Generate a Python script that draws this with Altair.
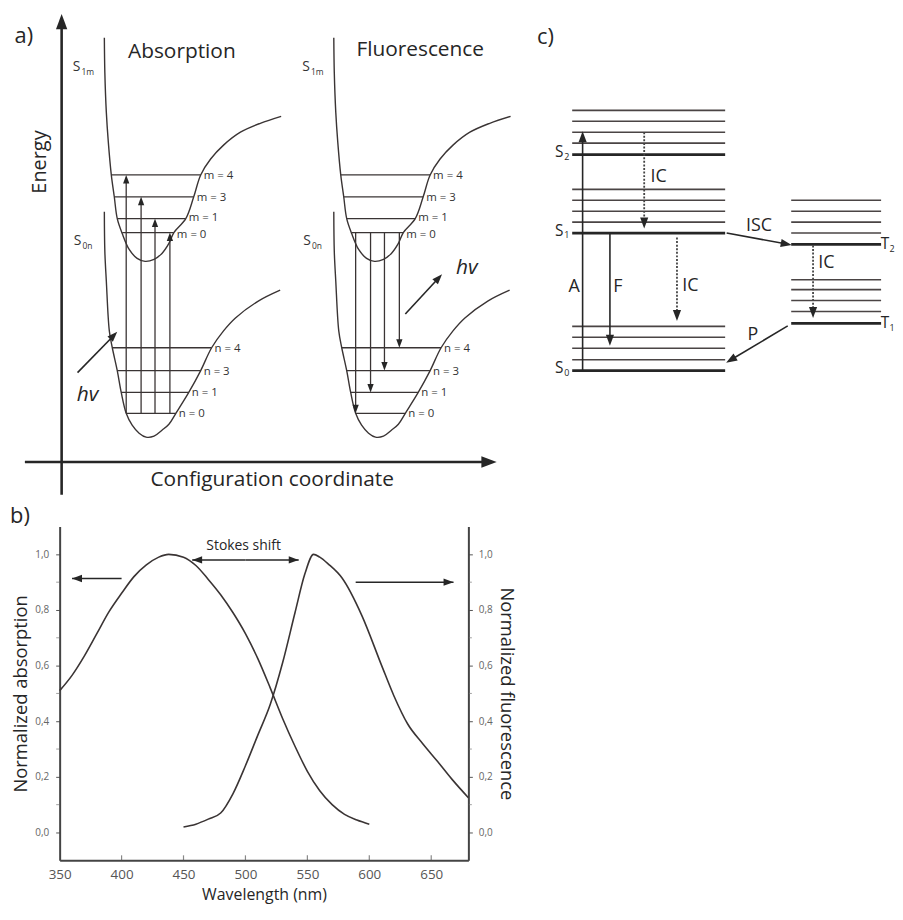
import math
import altair as alt
import pandas as pd

FONT = "Open Sans"
INK = "#262626"
LINE = "#3a3434"
W, H = 893, 904          # drawing area (page minus the 8px margin)

# ------------------------------------------------------------------
# Panel a : configuration-coordinate diagram (diagram units)
# ------------------------------------------------------------------
S1_X = [105, 105.5, 107, 109, 112, 115, 118, 123, 130, 138, 146, 155, 163, 170, 175, 187, 195, 202, 212, 225, 242, 262, 283]
S1_Y = [35, 70, 110, 140, 173, 195, 217, 232, 248, 257, 260, 258, 252, 242, 231, 217, 195, 173, 157, 143, 130, 121, 114]
S0_X = [105, 105.5, 107, 110, 113, 118, 122, 127, 133, 140, 147, 155, 163, 170, 177, 190, 202, 213, 225, 237, 260, 282]
S0_Y = [210, 250, 280, 330, 347, 370, 392, 413, 425, 433, 437, 436, 430, 424, 413, 392, 370, 347, 330, 317, 300, 289]
FL_SHIFT = 231            # fluorescence diagram drawn to the right

M_Y = [173, 195, 217, 231]
M_X0 = [112, 115, 118, 123]
M_X1 = [202, 195, 187, 175]
M_TXT = ["m = 4", "m = 3", "m = 1", "m = 0"]
M_TXT_Y = [174, 196, 216, 233]
N_Y = [347, 370, 392, 413]
N_X0 = [113, 118, 122, 127]
N_X1 = [213, 202, 190, 177]
N_TXT = ["n = 4", "n = 3", "n = 1", "n = 0"]
ABS_X = [127, 142, 156, 171]      # n=0 -> m=4,3,1,0
EM_X = [358, 373, 387, 402]       # m=0 -> n=0,1,3,4
EM_TO = [413, 392, 370, 347]

# ------------------------------------------------------------------
# Panel c : Jablonski diagram (diagram units)
# ------------------------------------------------------------------
C_SX = (576, 730)
C_TX = (796.5, 887)
C_S_THIN = [108, 119, 130, 141, 187.5, 198.5, 209.5, 220.5, 325.5, 336.5, 347.5, 359]
C_S_THICK = [152.5, 231.5, 370]
C_T_THIN = [198.5, 209.5, 220.5, 231.5, 278.5, 288.5, 299.5, 310.5]
C_T_THICK = [243, 322.5]

# ------------------------------------------------------------------
# Panel b : spectra
# ------------------------------------------------------------------
ABS_WL = [350, 360, 370, 380, 390, 400, 410, 420, 430, 438, 450, 460, 470, 480, 490, 500, 510, 520, 530, 540, 550, 560, 570, 580, 590, 600]
ABS_VAL = [0.51, 0.565, 0.635, 0.715, 0.795, 0.86, 0.92, 0.962, 0.99, 1.0, 0.99, 0.96, 0.91, 0.855, 0.79, 0.715, 0.625, 0.52, 0.41, 0.31, 0.22, 0.15, 0.10, 0.065, 0.045, 0.03]
FL_WL = [450, 460, 470, 480, 490, 500, 510, 520, 530, 540, 548, 555, 560, 567, 578, 594, 610, 620, 631, 643, 655, 667, 680]
FL_VAL = [0.02, 0.03, 0.048, 0.07, 0.14, 0.24, 0.35, 0.46, 0.61, 0.79, 0.93, 1.0, 0.99, 0.965, 0.915, 0.78, 0.60, 0.49, 0.39, 0.32, 0.256, 0.19, 0.125]
X_TICKS = [350, 400, 450, 500, 550, 600, 650]
Y_TICKS = [0, 0.2, 0.4, 0.6, 0.8, 1.0]
Y_MINOR = [0.1, 0.3, 0.5, 0.7, 0.9]

HEAD = "M0,0L-0.5,1.35L0.5,1.35Z"   # arrow head, tip at the anchor point

DX = alt.Scale(domain=[8, 8 + W], range=[0, W], nice=False, zero=False)
DY = alt.Scale(domain=[8, 8 + H], range=[0, H], nice=False, zero=False)


def ang(x0, y0, x1, y1, sx=1.0, sy=1.0):
    return math.degrees(math.atan2((x1 - x0) * sx, -(y1 - y0) * sy)) % 360


def enc_d(extra=None):
    e = dict(x=alt.X("x:Q", scale=DX, axis=None), y=alt.Y("y:Q", scale=DY, axis=None))
    if extra:
        e.update(extra)
    return e


def rules(rows, width, color=LINE, dash=None):
    df = pd.DataFrame(rows, columns=["x", "y", "x2", "y2"])
    kw = dict(color=color, strokeWidth=width)
    if dash:
        kw["strokeDash"] = dash
    return alt.Chart(df).mark_rule(**kw).encode(**enc_d({"x2": "x2:Q", "y2": "y2:Q"}))


def heads(rows, size, color=INK):
    # rows: (x_from, y_from, x_tip, y_tip)
    df = pd.DataFrame([{"x": r[2], "y": r[3], "angle": ang(*r)} for r in rows])
    return alt.Chart(df).mark_point(shape=HEAD, filled=True, size=size, opacity=1,
                                    color=color, strokeWidth=0).encode(
        **enc_d({"angle": alt.Angle("angle:Q", scale=None)}))


def texts(rows, size, **kw):
    df = pd.DataFrame(rows, columns=["x", "y", "t"])
    opts = dict(font=FONT, fontSize=size, color=INK)
    opts.update(kw)
    return alt.Chart(df).mark_text(**opts).encode(**enc_d({"text": "t:N"}))


# ---------- panel a layers ----------
curve_rows = []
for cid, (xs, ys, sh) in enumerate([(S1_X, S1_Y, 0), (S0_X, S0_Y, 0),
                                    (S1_X, S1_Y, FL_SHIFT), (S0_X, S0_Y, FL_SHIFT)]):
    for i, (xx, yy) in enumerate(zip(xs, ys)):
        curve_rows.append({"x": xx + sh, "y": yy, "i": i, "c": cid})
curves = alt.Chart(pd.DataFrame(curve_rows)).mark_line(
    color=LINE, strokeWidth=1.4, interpolate="catmull-rom").encode(
    **enc_d({"detail": "c:N", "order": "i:Q"}))

level_rows = []
for sh in (0, FL_SHIFT):
    for y, a, b in zip(M_Y, M_X0, M_X1):
        level_rows.append((a + sh, y, b + sh, y))
    for y, a, b in zip(N_Y, N_X0, N_X1):
        level_rows.append((a + sh, y, b + sh, y))
levels_a = rules(level_rows, 1.3)

abs_arrows = [(x, N_Y[3], x, y) for x, y in zip(ABS_X, M_Y)]
em_arrows = [(x, M_Y[3], x, y) for x, y in zip(EM_X, EM_TO)]
trans = rules([(a, b, c, d + (4 if d < b else -4)) for a, b, c, d in abs_arrows + em_arrows], 1.3)
trans_heads = heads(abs_arrows + em_arrows, 160)

hv_arrows = [(78, 372, 118, 331), (408, 313, 445, 273)]
hv_lines = rules([(a, b, c - 0.7 * (c - a) / 8, d - 0.7 * (d - b) / 8) for a, b, c, d in hv_arrows], 1.6, color=INK)
hv_heads = heads(hv_arrows, 230)

axes_a = rules([(62, 495, 62, 22), (25, 462, 488, 462)], 2.6, color=INK)
axes_heads = heads([(62, 495, 62, 11), (25, 462, 500, 462)], 520)

lvl_labels = []
for sh in (0, FL_SHIFT):
    for y, b, t in zip(M_TXT_Y, M_X1, M_TXT):
        lvl_labels.append((b + sh + 3, y, t))
    for y, b, t in zip(N_Y, N_X1, N_TXT):
        lvl_labels.append((b + sh + 3, y + 1, t))
lvl_text = texts(lvl_labels, 11.5, align="left", color="#333333")

s_main = texts([(77, 64, "S"), (78, 240, "S"), (77 + FL_SHIFT, 64, "S"), (78 + FL_SHIFT, 240, "S")], 14, color="#333333")
s_sub = texts([(82, 69, "1m"), (83, 245, "0n"), (82 + FL_SHIFT, 69, "1m"), (83 + FL_SHIFT, 245, "0n")], 8.5,
              align="left", color="#333333")

titles_a = texts([(183, 49, "Absorption"), (423, 47, "Fluorescence"), (274, 480, "Configuration coordinate")], 21)
energy = texts([(40, 160, "Energy")], 20, angle=270)
hv_text = texts([(88, 395, "hv"), (470, 267, "hv")], 21, fontStyle="italic")
panel_lbl = texts([(24, 33, "a)"), (549, 34, "c)")], 22)

# ---------- panel c layers ----------
c_thin = rules([(C_SX[0], y, C_SX[1], y) for y in C_S_THIN] + [(C_TX[0], y, C_TX[1], y) for y in C_T_THIN], 1.6, color="#4a4444")
c_thick = rules([(C_SX[0], y, C_SX[1], y) for y in C_S_THICK] + [(C_TX[0], y, C_TX[1], y) for y in C_T_THICK], 2.8, color=INK)
c_solid = [(586.5, 370, 586.5, 129), (614, 231.5, 614, 345), (731.5, 231.5, 797, 243.5), (793, 325, 731, 362)]
c_dot = [(648.5, 130, 648.5, 227), (681.5, 236, 681.5, 320), (818.5, 244, 818.5, 317)]
c_solid_l = rules([(a, b, c - 0.6 * (c - a) / max(abs(c - a), abs(d - b)) * 6, d - 0.6 * (d - b) / max(abs(c - a), abs(d - b)) * 6)
                   for a, b, c, d in c_solid], 1.6, color=INK)
c_dot_l = rules([(a, b, c, d - 5) for a, b, c, d in c_dot], 1.8, color="#444444", dash=[2, 1.6])
c_heads = heads(c_solid + c_dot, 270)
c_text = texts([(578, 286, "A"), (622, 286, "F"), (663, 175, "IC"), (695, 285, "IC"), (832, 262, "IC"),
                (764, 224, "ISC"), (758, 334, "P")], 18)
c_s = texts([(563, 150, "S"), (563, 229, "S"), (563, 367, "S"), (891, 243, "T"), (891, 322.5, "T")], 15.5)
c_sub = texts([(568, 155, "2"), (568, 234, "1"), (568, 372, "0"), (895.5, 248, "2"), (895.5, 327.5, "1")], 9, align="left")

diagram = alt.layer(curves, levels_a, trans, trans_heads, hv_lines, hv_heads, axes_a, axes_heads,
                    lvl_text, s_main, s_sub, titles_a, energy, hv_text, panel_lbl,
                    c_thin, c_thick, c_solid_l, c_dot_l, c_heads, c_text, c_s, c_sub)

# ---------- panel b ----------
XB = alt.Scale(domain=[350, 680], range=[52, 463.5], nice=False, zero=False)
YB = alt.Scale(domain=[-0.1, 1.1], range=[855, 519], nice=False, zero=False)
YB2 = alt.Scale(domain=[-0.1, 1.1], range=[855, 519], nice=False, zero=False)
PX_PER_NM, PX_PER_UNIT = 411.5 / 330, 336 / 1.2

X_AXIS = alt.Axis(values=X_TICKS, title="Wavelength (nm)", orient="bottom", offset=-(H - 855), ticks=False,
                  labelFlush=False, labelPadding=7, labelFont=FONT, labelFontSize=13.5, labelColor="#555555",
                  titleFont=FONT, titleFontSize=16, titleFontWeight="normal", titleColor=INK, titlePadding=6,
                  domainColor="#444444", domainWidth=2, grid=False)
YL_AXIS = alt.Axis(values=Y_TICKS, format=".1f", labelExpr="replace(datum.label, '.', ',')", orient="left",
                   offset=-52, title="Normalized absorption", tickSize=4, tickColor="#555555", tickWidth=1,
                   labelFont=FONT, labelFontSize=10, labelColor="#666666", labelPadding=7,
                   titleFont=FONT, titleFontSize=18.5, titleFontWeight="normal", titleColor=INK, titlePadding=4,
                   domainColor="#444444", domainWidth=2, grid=False)
YR_AXIS = alt.Axis(values=Y_TICKS, format=".1f", labelExpr="replace(datum.label, '.', ',')", orient="right",
                   offset=-(W - 463.5), title="Normalized fluorescence", tickSize=4, tickColor="#555555", tickWidth=1,
                   labelFont=FONT, labelFontSize=10, labelColor="#666666", labelPadding=6,
                   titleFont=FONT, titleFontSize=18.5, titleFontWeight="normal", titleColor=INK, titlePadding=4,
                   domainColor="#444444", domainWidth=2, grid=False)


def bx(f):
    return alt.X(f"{f}:Q", scale=XB, axis=X_AXIS)


def by(f):
    return alt.Y(f"{f}:Q", scale=YB, axis=YL_AXIS)


abs_line = alt.Chart(pd.DataFrame({"wl": ABS_WL, "v": ABS_VAL})).mark_line(
    color=LINE, strokeWidth=1.6, interpolate="monotone").encode(x=bx("wl"), y=by("v"))

b_arrow_rows = [(400, 0.913, 360, 0.913), (589, 0.90, 668, 0.90), (500, 0.98, 457, 0.98), (500, 0.98, 543, 0.98)]
b_lines = alt.Chart(pd.DataFrame([{"wl": a, "v": b, "x2": c, "y2": d} for a, b, c, d in b_arrow_rows])).mark_rule(
    color=INK, strokeWidth=1.6).encode(x=bx("wl"), y=by("v"), x2="x2:Q", y2="y2:Q")
b_heads = alt.Chart(pd.DataFrame([{"wl": c, "v": d, "angle": ang(a, b, c, d, PX_PER_NM, -PX_PER_UNIT)}
                                  for a, b, c, d in b_arrow_rows])).mark_point(
    shape=HEAD, filled=True, size=220, opacity=1, color=INK, strokeWidth=0).encode(
    x=bx("wl"), y=by("v"), angle=alt.Angle("angle:Q", scale=None))
b_text = alt.Chart(pd.DataFrame({"wl": [498.5], "v": [1.03], "t": ["Stokes shift"]})).mark_text(
    font=FONT, fontSize=14, color=INK).encode(x=bx("wl"), y=by("v"), text="t:N")
b_label = alt.Chart(pd.DataFrame({"wl": [318], "v": [1.136], "t": ["b)"]})).mark_text(
    font=FONT, fontSize=22, color=INK).encode(x=bx("wl"), y=by("v"), text="t:N")
x_in_ticks = alt.Chart(pd.DataFrame({"wl": X_TICKS[1:], "v": [-0.1] * 6})).mark_tick(
    orient="vertical", size=5, thickness=1.2, yOffset=-2.5, color="#555555").encode(x=bx("wl"), y=by("v"))
minor_l = alt.Chart(pd.DataFrame({"wl": [350] * 5, "v": Y_MINOR})).mark_tick(
    orient="horizontal", size=3, thickness=1, xOffset=-2, color="#777777").encode(x=bx("wl"), y=by("v"))
minor_r = alt.Chart(pd.DataFrame({"wl": [680] * 5, "v": Y_MINOR})).mark_tick(
    orient="horizontal", size=3, thickness=1, xOffset=2, color="#777777").encode(x=bx("wl"), y=by("v"))

b_left = alt.layer(abs_line, b_lines, b_heads, b_text, b_label, x_in_ticks, minor_l, minor_r)
fl_line = alt.Chart(pd.DataFrame({"wl": FL_WL, "v": FL_VAL})).mark_line(
    color=LINE, strokeWidth=1.6, interpolate="monotone").encode(
    x=bx("wl"), y=alt.Y("v:Q", scale=YB2, axis=YR_AXIS))

panel_b = alt.layer(b_left, fl_line).resolve_scale(y="independent")

chart = alt.layer(diagram, panel_b).resolve_scale(x="independent", y="independent").properties(
    width=W, height=H, padding=0, autosize=alt.AutoSizeParams(type="none"),
    background="white").configure_view(stroke=None)

chart.save("out.html", embed_options={"renderer": "svg", "actions": False})
